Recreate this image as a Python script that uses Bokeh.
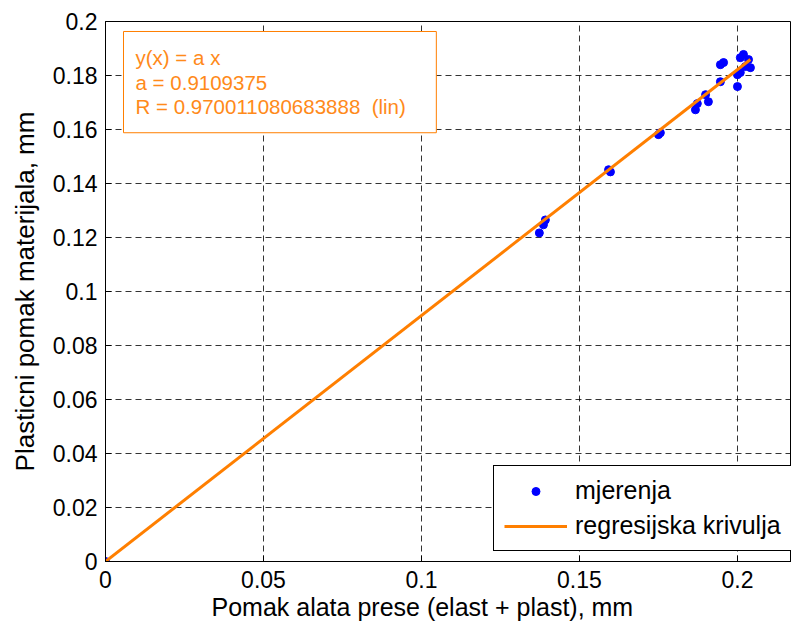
from bokeh.plotting import figure
from bokeh.models import Range1d, FixedTicker, BoxAnnotation, Label, Title
from bokeh.embed import file_html
from bokeh.resources import INLINE

# ---- data ----
meas_x = [0.0, 0.1373, 0.1386, 0.1392, 0.1592, 0.1598, 0.1750, 0.1756,
          0.1867, 0.1873, 0.1899, 0.1908, 0.1946, 0.1946, 0.1956,
          0.2000, 0.2000, 0.2009, 0.2009, 0.2019, 0.2025, 0.2035, 0.2041]
meas_y = [0.0, 0.1217, 0.1247, 0.1265, 0.1451, 0.1443, 0.1581, 0.1588,
          0.1673, 0.1696, 0.1729, 0.1703, 0.1840, 0.1777, 0.1848,
          0.1759, 0.1803, 0.1866, 0.1811, 0.1878, 0.1833, 0.1859, 0.1829]
a_coef = 0.9109375
r_coef = "0.970011080683888"

x_ticks = [0, 0.05, 0.1, 0.15, 0.2]
x_tick_labels = ["0", "0.05", "0.1", "0.15", "0.2"]
y_ticks = [0, 0.02, 0.04, 0.06, 0.08, 0.1, 0.12, 0.14, 0.16, 0.18, 0.2]
y_tick_labels = ["0", "0.02", "0.04", "0.06", "0.08", "0.1", "0.12", "0.14", "0.16", "0.18", "0.2"]

x_label = "Pomak alata prese (elast + plast), mm"
y_label = "Plasticni pomak materijala, mm"
legend_meas = "mjerenja"
legend_fit = "regresijska krivulja"
box_lines = ["y(x) = a x", "a = %s" % a_coef, "R = %s\u00a0\u00a0(lin)" % r_coef]

FONT = "Liberation Sans"
ORANGE = "#ff7f00"
TXT_ORANGE = "#ff8a1a"

p = figure(width=791, height=625, output_backend="svg", toolbar_location=None,
           x_range=Range1d(0, 0.2171), y_range=Range1d(0, 0.2),
           min_border_left=105, min_border_right=0, min_border_top=21,
           min_border_bottom=64)
p.outline_line_color = "black"
p.background_fill_color = "white"

for ax, ticks, labels in ((p.xaxis[0], x_ticks, x_tick_labels), (p.yaxis[0], y_ticks, y_tick_labels)):
    ax.ticker = FixedTicker(ticks=ticks)
    ax.major_label_overrides = {t: l for t, l in zip(ticks, labels)}
    ax.major_label_text_font = FONT
    ax.major_label_text_font_size = "23px"
    ax.major_label_text_color = "black"
    ax.major_tick_in = 6
    ax.major_tick_out = 0
    ax.minor_tick_line_color = None
    ax.axis_line_color = "black"
    ax.major_tick_line_color = "black"
    ax.major_label_standoff = 8

p.xaxis[0].major_label_standoff = 9

p.yaxis[0].axis_label = y_label
p.yaxis[0].axis_label_text_font = FONT
p.yaxis[0].axis_label_text_font_size = "26px"
p.yaxis[0].axis_label_text_font_style = "normal"
p.yaxis[0].axis_label_text_color = "black"
p.yaxis[0].axis_label_standoff = 10

p.add_layout(Title(text=x_label, align="left", offset=106, standoff=0,
                   text_font=FONT, text_font_size="25px", text_font_style="normal",
                   text_color="black"), "below")

p.grid.grid_line_color = "black"
p.grid.grid_line_alpha = 0.8
p.grid.grid_line_dash = "6 4"
p.xgrid.ticker = FixedTicker(ticks=x_ticks)
p.ygrid.ticker = FixedTicker(ticks=y_ticks)

p.scatter(meas_x, meas_y, size=8, color="#0000ff", legend_label=legend_meas)
fit_x = [0.0, max(meas_x)]
fit_y = [a_coef * v for v in fit_x]
p.line(fit_x, fit_y, color=ORANGE, line_width=3, legend_label=legend_fit)

# annotation box with fit parameters
p.add_layout(BoxAnnotation(left=0.0057, right=0.1047, top=0.1963, bottom=0.1588,
                           fill_color="white", fill_alpha=1.0,
                           line_color=ORANGE, line_width=1, line_alpha=1.0))
for txt, yy in zip(box_lines, [0.1866, 0.1774, 0.1685]):
    p.add_layout(Label(x=0.0095, y=yy, text=txt, text_font=FONT, text_font_size="20.5px",
                       text_color=TXT_ORANGE, text_baseline="alphabetic"))

lg = p.legend[0]
lg.location = (388, 10)
lg.border_line_color = "black"
lg.border_line_alpha = 1.0
lg.border_line_width = 1
lg.background_fill_color = "white"
lg.background_fill_alpha = 1.0
lg.label_text_font = FONT
lg.label_text_font_size = "25px"
lg.label_text_color = "black"
lg.glyph_width = 63
lg.glyph_height = 20
lg.label_height = 26
lg.label_width = 240
lg.spacing = 6
lg.padding = 10
lg.margin = 0
lg.label_standoff = 8

open("out.html", "w").write(file_html(p, INLINE))
